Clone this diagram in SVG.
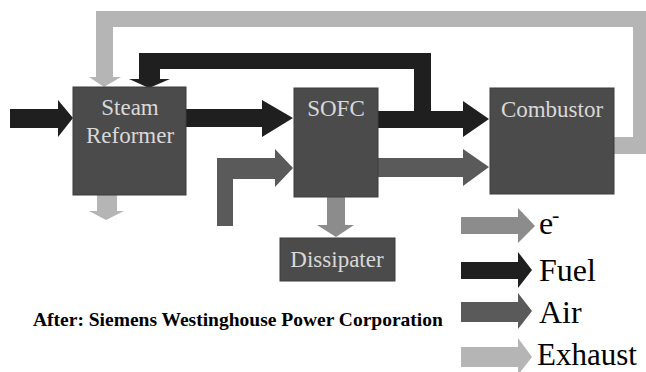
<svg xmlns="http://www.w3.org/2000/svg" width="646" height="372" viewBox="0 0 646 372">
<style>
.box{fill:#4b4b4b;stroke:#3c3c3c;stroke-width:1}
.lbl{font-family:"Liberation Serif","Times New Roman",serif;font-size:23px;fill:#d9d9d9;text-anchor:middle}
.leg{font-family:"Liberation Serif","Times New Roman",serif;font-size:32px;fill:#000}
.cap{font-family:"Liberation Serif","Times New Roman",serif;font-size:19.5px;font-weight:bold;fill:#000}
.fuel{fill:#1f1f1f}
.air{fill:#5a5a5a}
.elec{fill:#8c8c8c}
.exh{fill:#b5b5b5}
</style>
<rect width="646" height="372" fill="#fff"/>
<g id="connectors">
<polygon class="exh" points="614,137 633,137 633,27 113,27 113,77 121,77 104,87 89,77 96,77 96,11 646,11 646,154 614,154"/>
<polygon class="fuel" points="414,112 414,69 160,69 160,79 170,79 149,88 129,79 139,79 139,53 431,53 431,112"/>
<polygon class="fuel" points="10,109 58,109 58,100 73,118 58,137 58,128 10,128"/>
<polygon class="fuel" points="186,109 262,109 262,100 293,118 262,137 262,127 186,127"/>
<polygon class="air" points="217,226 217,158 275,158 275,149 293,168 275,187 275,179 233,179 233,226"/>
<polygon class="fuel" points="378,111 463,111 463,101 489,119 463,137 463,128 378,128"/>
<polygon class="air" points="378,158 463,158 463,149 489,167 463,186 463,177 378,177"/>
<polygon class="exh" points="97,195 117,195 117,211 124,211 106,220 89,211 97,211"/>
<polygon class="elec" points="327,197 345,197 345,225 354,225 336,237 317,225 327,225"/>
</g>
<g id="steam-reformer">
<rect class="box" x="73" y="87" width="113" height="108"/>
<text class="lbl" x="130" y="115">Steam</text>
<text class="lbl" x="130" y="143">Reformer</text>
</g>
<g id="sofc">
<rect class="box" x="294" y="88" width="84" height="109"/>
<text class="lbl" x="336" y="116">SOFC</text>
</g>
<g id="combustor">
<rect class="box" x="490" y="88" width="124" height="106"/>
<text class="lbl" x="552" y="117">Combustor</text>
</g>
<g id="dissipater">
<rect class="box" x="280" y="238" width="115" height="43"/>
<text class="lbl" x="337" y="267">Dissipater</text>
</g>
<g id="legend">
<polygon class="elec" points="461,217 518,217 518,208 535,226 518,243 518,234 461,234"/>
<text class="leg" x="539" y="234">e</text>
<text class="leg" x="552" y="222" style="font-size:22px">-</text>
<polygon class="fuel" points="461,262 518,262 518,252 532,270 518,288 518,279 461,279"/>
<text class="leg" x="539" y="281">Fuel</text>
<polygon class="air" points="461,302 518,302 518,293 532,311 518,329 518,322 461,322"/>
<text class="leg" x="539" y="323">Air</text>
<polygon class="exh" points="461,347 518,347 518,338 532,357 518,375 518,367 461,367"/>
<text class="leg" x="537" y="365" style="font-size:31px">Exhaust</text>
</g>
<g id="caption">
<text class="cap" x="33" y="326">After: Siemens Westinghouse Power Corporation</text>
</g>
</svg>
